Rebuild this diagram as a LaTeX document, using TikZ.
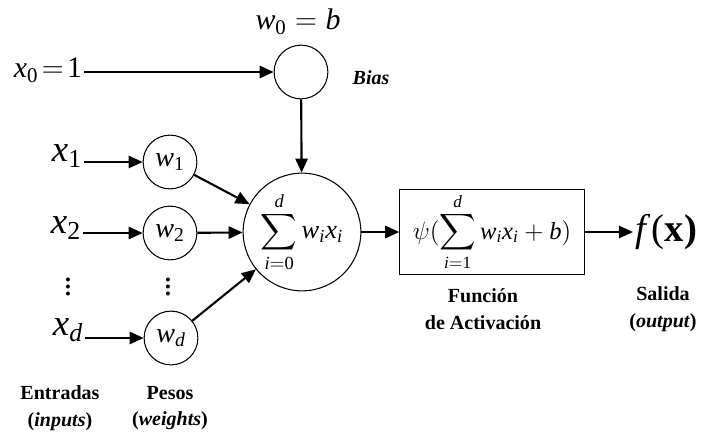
\documentclass[tikz,border=0pt]{standalone}
\usepackage{amsmath}
\usepackage{fontspec}
\setmainfont{Liberation Serif}
\usetikzlibrary{arrows.meta,positioning}
\newcommand{\vr}[1]{\text{\itshape #1}}
\newcommand{\ix}[1]{_{\text{\itshape #1}}}

\begin{document}
\begin{tikzpicture}[x=0.02cm,y=-0.02cm,pesonode/.style={draw,circle,minimum size=30.6pt,inner sep=0pt,line width=0.6pt,font=\fontsize{16}{16}\selectfont},inlabel/.style={font=\fontsize{21}{21}\selectfont,inner sep=1pt},caption/.style={align=center,font=\fontsize{11.4}{15}\selectfont\bfseries},arr/.style={-{Triangle[length=8pt,width=7pt]},line width=1.2pt}]
\useasboundingbox (0,0) rectangle (705,436);
% entrada de sesgo
\node[inner sep=1pt,font=\fontsize{17}{17}\selectfont] (xzero) at (48,70){$\vr{x}_{\text{0}}\!=\!\text{1}$};
\node[draw,circle,minimum size=30.6pt,inner sep=0pt,line width=0.6pt] (bias) at (301,72){};
\node[font=\fontsize{17}{17}\selectfont] (wzero) at (298,22){$\vr{w}_{\text{0}}=\vr{b}$};
\node[font=\fontsize{11.4}{12}\selectfont\bfseries\itshape] (biastext) at (371,78){Bias};
% entradas y pesos
\node[inlabel] (xone) at (67,156){$\vr{x}_{\text{1}}$};
\node[inlabel] (xtwo) at (66,228){$\vr{x}_{\text{2}}$};
\node[inlabel] (xd) at (68,330){$\vr{x}\ix{d}$};
\node[font=\fontsize{19}{19}\selectfont] (dotsx) at (68,282){$\vdots$};
\node[pesonode] (wone) at (170,162){$\vr{w}_{\text{1}}$};
\node[pesonode] (wtwo) at (170,233){$\vr{w}_{\text{2}}$};
\node[pesonode] (wd) at (171,338){$\vr{w}\ix{d}$};
\node[font=\fontsize{19}{19}\selectfont] (dotsw) at (168,282){$\vdots$};
% sumatorio, activacion y salida
\node[draw,circle,minimum size=67pt,inner sep=0pt,line width=0.6pt,font=\fontsize{15}{15}\selectfont] (suma) at (302,232){$\displaystyle\sum_{\vr{i}=\text{0}}^{\vr{d}}\vr{w}\ix{i}\vr{x}\ix{i}$};
\node[draw,minimum width=105pt,minimum height=42.5pt,inner sep=2pt,line width=0.6pt,font=\fontsize{14}{14}\selectfont] (activ) at (492,232){$\displaystyle\psi(\sum_{\vr{i}=\text{1}}^{\vr{d}}\vr{w}\ix{i}\vr{x}\ix{i}+\vr{b})$};
\node[font=\fontsize{22}{22}\selectfont,inner sep=1pt] (salida) at (666,232){$\vr{f}\,\text{(\bfseries x)}$};
% rotulos
\node[caption] (capact) at (483,309){Función\\de Activación};
\node[caption] (capsal) at (663,309){Salida\\(\textit{output})};
\node[caption] (capent) at (60,408){Entradas\\(\textit{inputs})};
\node[caption] (cappes) at (170,408){Pesos\\(\textit{weights})};
\draw[arr] (xzero.east |- bias) -- (bias);\draw[arr] (bias) -- (suma);\draw[arr] (xone.east |- wone) -- (wone);\draw[arr] (xtwo.east |- wtwo) -- (wtwo);\draw[arr] (xd.east |- wd) -- (wd);\draw[arr] (wone) -- (suma);\draw[arr] (wtwo) -- (suma);\draw[arr] (wd) -- (suma);\draw[arr] (suma) -- (activ);\draw[arr] (activ) -- (salida);
\end{tikzpicture}
\end{document}
